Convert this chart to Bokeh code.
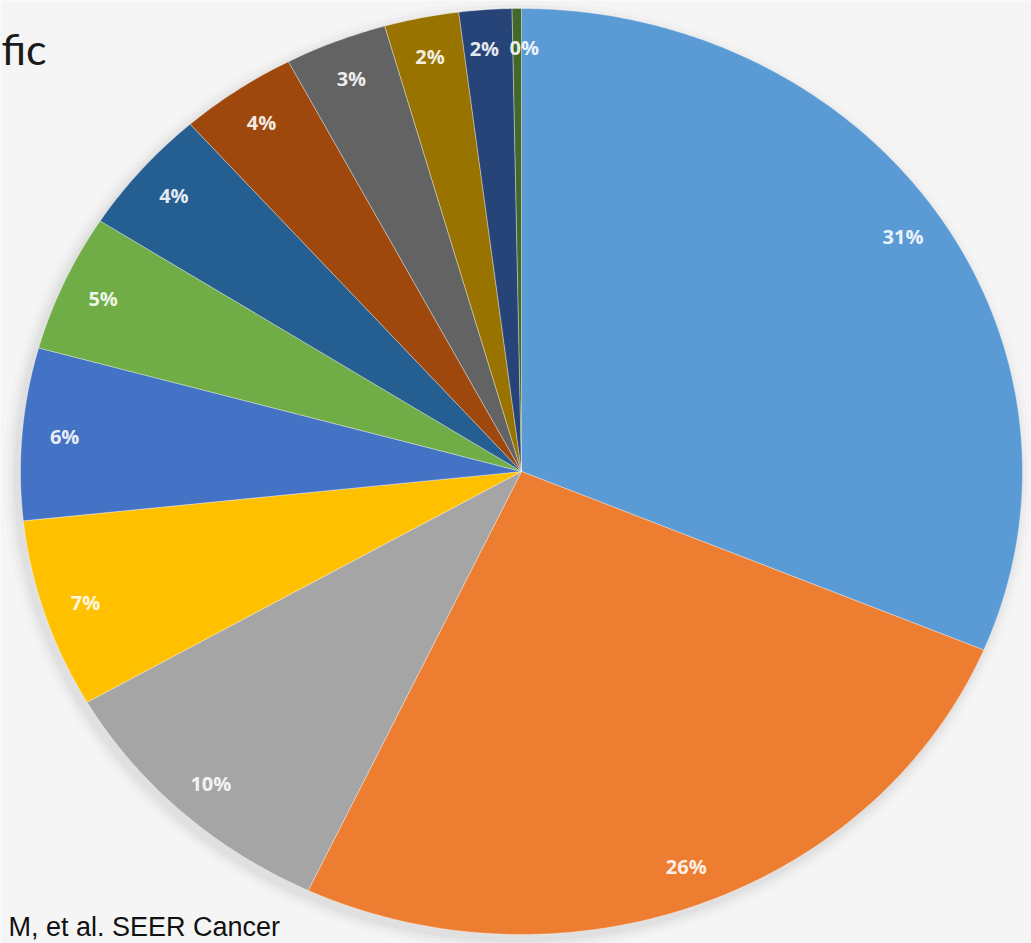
import numpy as np
from bokeh.plotting import figure
from bokeh.models import Range1d, ColumnDataSource
from bokeh.core.properties import value
from bokeh.embed import file_html
from bokeh.resources import INLINE

# ---- data (clockwise from 12 o'clock) ----
shares = [31.3, 25.7, 9.7, 6.6, 6.0, 4.8, 4.4, 3.8, 3.3, 2.4, 1.7, 0.3]
labels = ["31%", "26%", "10%", "7%", "6%", "5%", "4%", "4%", "3%", "2%", "2%", "0%"]
colors = ["#5b9bd5", "#ed7d31", "#a5a5a5", "#ffc000", "#4472c4", "#70ad47",
          "#255e91", "#9e480e", "#636363", "#997300", "#264478", "#43682b"]
title_fragment = "fic"
footnote = "M, et al. SEER Cancer"

# ---- layout constants ----
W, H = 1031, 943
CX, CY = 521, 471      # pie centre (screen px, y downwards)
RX, RY = 501, 463      # pie radii
LABEL_R = 0.915
# small horizontal nudges so the two tiny slices' labels do not collide
LABEL_NUDGE = [0, 0, 0, 0, 0, 0, 0, 0, 0, 0, -4, 7]

p = figure(width=W, height=H, x_range=Range1d(0, W), y_range=Range1d(H, 0),
           min_border=0, toolbar_location=None, output_backend="svg")
p.axis.visible = False
p.grid.visible = False
p.outline_line_color = None
p.background_fill_color = "#f5f5f5"
p.border_fill_color = "#f5f5f5"

# soft shadow around the pie
for k, a in [(26, 0.025), (18, 0.035), (11, 0.045), (5, 0.06)]:
    p.ellipse(x=[CX - 4], y=[CY + 5], width=[2 * RX + k], height=[2 * RY + k],
              fill_color="#7a7a7a", fill_alpha=a, line_color=None)

vals = np.array(shares, dtype=float)
frac = vals / vals.sum()
ends = np.cumsum(frac)
starts = ends - frac

xs, ys, lx, ly = [], [], [], []
for s, e, nd in zip(starts, ends, LABEL_NUDGE):
    n = max(4, int((e - s) * 720))
    t = np.linspace(s, e, n) * 2 * np.pi   # clockwise from top
    px = CX + RX * np.sin(t)
    py = CY - RY * np.cos(t)
    xs.append(np.concatenate([[CX], px]).tolist())
    ys.append(np.concatenate([[CY], py]).tolist())
    m = (s + e) / 2 * 2 * np.pi
    lx.append(CX + LABEL_R * RX * np.sin(m) + nd)
    ly.append(CY - LABEL_R * RY * np.cos(m))

src = ColumnDataSource(dict(xs=xs, ys=ys, color=colors))
p.patches("xs", "ys", source=src, fill_color="color", line_color="#ffffff",
          line_alpha=0.35, line_width=1)

lsrc = ColumnDataSource(dict(x=lx, y=ly, t=labels))
p.text("x", "y", text="t", source=lsrc, text_color="#ffffff", text_alpha=0.9,
       text_font=value("Open Sans"), text_font_style="bold", text_font_size="20px",
       text_align="center", text_baseline="middle")

p.text(x=[1], y=[48], text=[title_fragment], text_color="#1a1a1a",
       text_font=value("Lato"), text_font_size="43px",
       text_align="left", text_baseline="alphabetic")
p.text(x=[8], y=[926], text=[footnote], text_color="#111111",
       text_font=value("Liberation Sans"), text_font_size="27px",
       text_align="left", text_baseline="alphabetic")

open("out.html", "w").write(file_html(p, INLINE))
